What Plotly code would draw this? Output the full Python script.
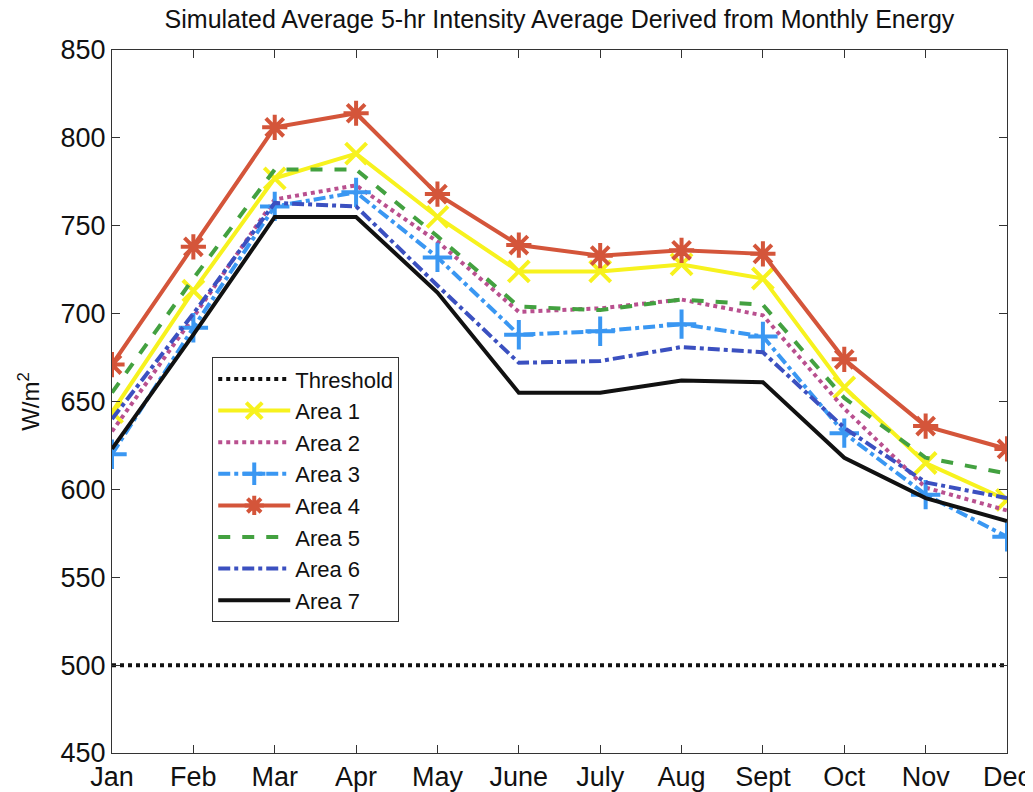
import plotly.graph_objects as go

MONTHS = ["Jan", "Feb", "Mar", "Apr", "May", "June", "July", "Aug", "Sept", "Oct", "Nov", "Dec"]

THRESHOLD = [500] * 12
AREA_1 = [644, 713, 777, 791, 755, 724, 724, 728, 720, 658, 615, 594]
AREA_2 = [633, 698, 765, 773, 741, 701, 703, 708, 699, 646, 601, 588]
AREA_3 = [620, 692, 761, 769, 732, 688, 690, 694, 687, 632, 597, 573]
AREA_4 = [671, 738, 806, 814, 768, 739, 733, 736, 734, 674, 636, 623]
AREA_5 = [655, 720, 782, 782, 744, 704, 702, 708, 705, 652, 618, 609]
AREA_6 = [640, 700, 763, 761, 716, 672, 673, 681, 678, 635, 604, 595]
AREA_7 = [623, 688, 755, 755, 712, 655, 655, 662, 661, 618, 595, 582]

FONT = "Liberation Sans, Arial, sans-serif"

series = [
    ("Threshold", THRESHOLD, "#111111", "dot", None),
    ("Area 1", AREA_1, "#f7f21e", "solid", "x-thin"),
    ("Area 2", AREA_2, "#b9508f", "dot", None),
    ("Area 3", AREA_3, "#3a97f2", "dashdot", "cross-thin"),
    ("Area 4", AREA_4, "#d4553a", "solid", "asterisk"),
    ("Area 5", AREA_5, "#43a140", "dash", None),
    ("Area 6", AREA_6, "#3b50c0", "dashdot", None),
    ("Area 7", AREA_7, "#111111", "solid", None),
]

fig = go.Figure()
for name, values, color, dash, symbol in series:
    trace = dict(
        x=MONTHS,
        y=values,
        name=name,
        line=dict(color=color, width=4, dash=dash),
    )
    if symbol:
        trace["mode"] = "lines+markers"
        trace["marker"] = dict(symbol=symbol, size=21, color=color,
                               line=dict(color=color, width=4))
    else:
        trace["mode"] = "lines"
    fig.add_trace(go.Scatter(**trace))

axis_common = dict(
    showline=True,
    linecolor="#333333",
    linewidth=1,
    mirror="ticks",
    ticks="inside",
    ticklen=8,
    tickcolor="#333333",
    showgrid=False,
    zeroline=False,
    automargin=False,
    tickfont=dict(family=FONT, size=27, color="#111111"),
)

fig.update_xaxes(range=[0, 11], **axis_common)
fig.update_yaxes(
    range=[450, 850],
    dtick=50,
    title=dict(text="W/m<sup>2</sup>", font=dict(family=FONT, size=24, color="#111111"), standoff=14),
    **axis_common,
)

# page body adds an 8px offset, so the figure is sized to fit the 1033x792 window
fig.update_layout(
    width=1025,
    height=784,
    paper_bgcolor="white",
    plot_bgcolor="white",
    margin=dict(l=104, r=26, t=42, b=39),
    title=dict(
        text="Simulated Average 5-hr Intensity Average Derived from Monthly Energy",
        font=dict(family=FONT, size=25, color="#111111"),
        xref="paper",
        x=0.5,
        xanchor="center",
        y=0.997,
        yanchor="top",
        automargin=False,
    ),
    legend=dict(
        x=0.112,
        y=0.563,
        xanchor="left",
        yanchor="top",
        bgcolor="white",
        bordercolor="#333333",
        borderwidth=1,
        font=dict(family=FONT, size=22, color="#111111"),
        tracegroupgap=0,
        itemwidth=72,
    ),
    showlegend=True,
)

fig.write_html("out.html")
